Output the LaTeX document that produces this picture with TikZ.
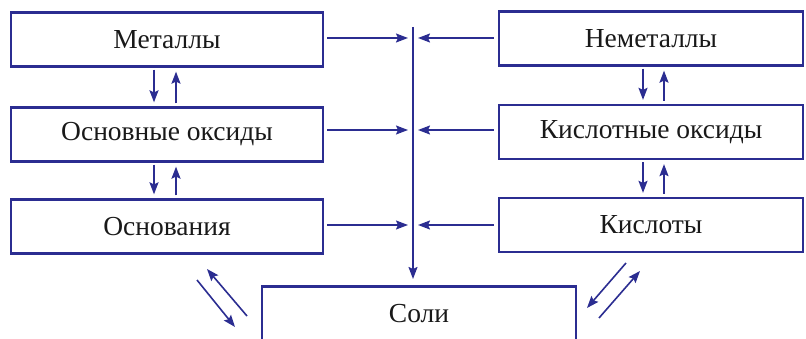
\documentclass[tikz,border=0pt]{standalone}
\usepackage{fontspec}
\setmainfont{Liberation Serif}
\usetikzlibrary{arrows.meta}
\definecolor{dblue}{RGB}{43,45,145}
\definecolor{txt}{RGB}{25,25,25}
\begin{document}
\begin{tikzpicture}[x=1pt,y=-1pt,
  boxL/.style={draw=dblue,line width=2.3pt,minimum width=312pt,minimum height=54pt,inner sep=0pt,font=\fontsize{27.5}{32}\selectfont,text=txt},
  boxR/.style={boxL,minimum width=304pt},
  arr/.style={draw=dblue,line width=1.6pt,-{Stealth[length=12pt,width=9pt,inset=2pt]}}]
\useasboundingbox (0,0) rectangle (806,339);
% left column
\node[boxL] (met) at (167,39.5) {Металлы};
\node[boxL] (boxo) at (167,134.5) {Основные оксиды};
\node[boxL] (osn) at (167,226.5) {Основания};
% right column
\node[boxR] (nemet) at (651,38.5) {Неметаллы};
\node[boxR] (kox) at (651,132) {Кислотные оксиды};
\node[boxR] (kis) at (651,225) {Кислоты};
% salts
\draw[dblue,line width=2.3pt] (262,345) -- (262,286.5) -- (576,286.5) -- (576,345);
\node[font=\fontsize{27.5}{32}\selectfont,text=txt] (soli) at (419,314) {Соли};
% spine
\coordinate (top) at (413,27);
\coordinate (bot) at (413,279);
\draw[arr] (top) -- (bot);
% horizontal arrows
\coordinate (l1) at (408,38); \coordinate (r1) at (418,38);
\coordinate (l2) at (408,130); \coordinate (r2) at (418,130);
\coordinate (l3) at (408,225); \coordinate (r3) at (418,225);
\draw[arr] (met.east |- l1) ++(3,0) -- (l1);
\draw[arr] (boxo.east |- l2) ++(3,0) -- (l2);
\draw[arr] (osn.east |- l3) ++(3,0) -- (l3);
\draw[arr] (nemet.west |- r1) ++(-4,0) -- (r1);
\draw[arr] (kox.west |- r2) ++(-4,0) -- (r2);
\draw[arr] (kis.west |- r3) ++(-4,0) -- (r3);
% vertical small arrows left
\draw[arr] ([xshift=-13pt,yshift=-2pt]met.south) -- ([xshift=-13pt,yshift=4pt]boxo.north);
\draw[arr] ([xshift=9pt,yshift=3pt]boxo.north) -- ([xshift=9pt,yshift=-4pt]met.south);
\draw[arr] ([xshift=-13pt,yshift=-2pt]boxo.south) -- ([xshift=-13pt,yshift=4pt]osn.north);
\draw[arr] ([xshift=9pt,yshift=3pt]osn.north) -- ([xshift=9pt,yshift=-4pt]boxo.south);
% vertical small arrows right
\draw[arr] ([xshift=-8pt,yshift=-2pt]nemet.south) -- ([xshift=-8pt,yshift=4pt]kox.north);
\draw[arr] ([xshift=13pt,yshift=3pt]kox.north) -- ([xshift=13pt,yshift=-4pt]nemet.south);
\draw[arr] ([xshift=-8pt,yshift=-2pt]kox.south) -- ([xshift=-8pt,yshift=4pt]kis.north);
\draw[arr] ([xshift=13pt,yshift=3pt]kis.north) -- ([xshift=13pt,yshift=-4pt]kox.south);
% diagonal arrows
\coordinate (dl1a) at (197,280); \coordinate (dl1b) at (235,327);
\coordinate (dl2a) at (247,316); \coordinate (dl2b) at (207,269);
\coordinate (dr1a) at (626,263); \coordinate (dr1b) at (587,308);
\coordinate (dr2a) at (599,318); \coordinate (dr2b) at (640,271);
\draw[arr] (dl1a) -- (dl1b);
\draw[arr] (dl2a) -- (dl2b);
\draw[arr] (dr1a) -- (dr1b);
\draw[arr] (dr2a) -- (dr2b);
\end{tikzpicture}
\end{document}
